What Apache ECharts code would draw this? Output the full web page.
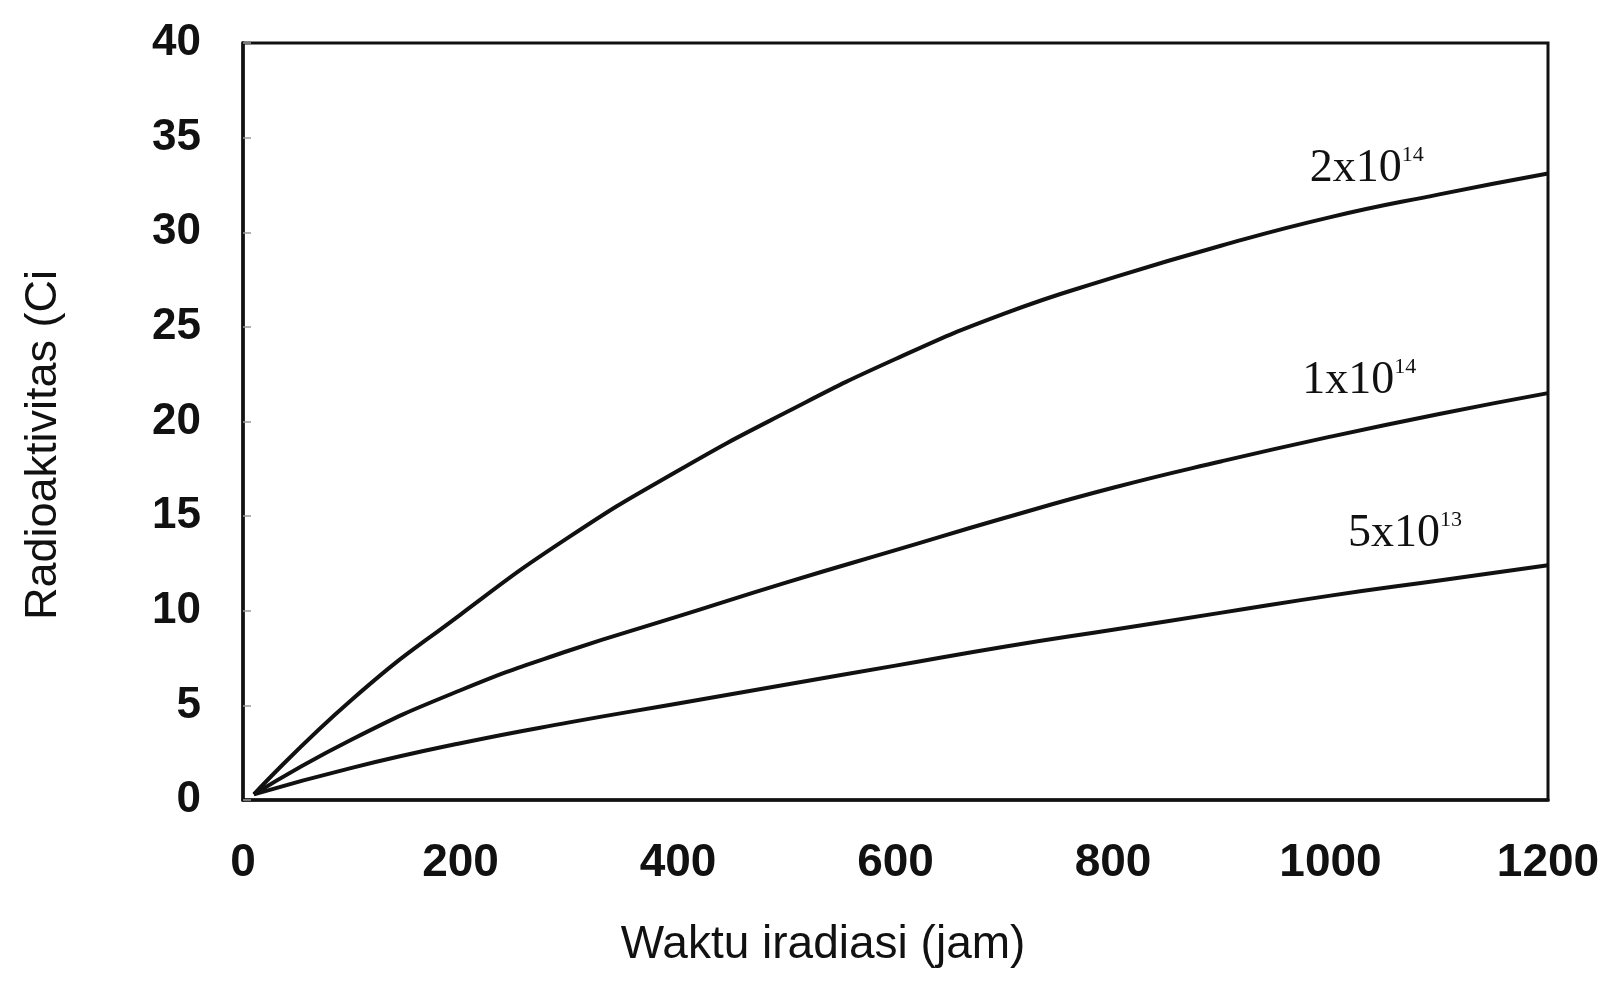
<!DOCTYPE html>
<html>
<head>
<meta charset="utf-8">
<script src="https://cdn.jsdelivr.net/npm/echarts@6/dist/echarts.min.js"></script>
<style>
html,body{margin:0;padding:0;background:#fff;}
#chart{width:1610px;height:981px;}
</style>
</head>
<body>
<div id="chart"></div>
<script>
// Irradiation time (jam)
const hours = [10, 100, 200, 300, 400, 500, 600, 700, 800, 900, 1000, 1100, 1200];
// Radioactivity (Ci) for each neutron flux
const flux2e14 = [0.3, 5.3, 9.8, 13.9, 17.4, 20.5, 23.3, 25.7, 27.6, 29.3, 30.8, 32.0, 33.1];
const flux1e14 = [0.3, 3.2, 5.8, 7.9, 9.7, 11.5, 13.2, 14.9, 16.5, 17.9, 19.2, 20.4, 21.5];
const flux5e13 = [0.3, 1.7, 3.0, 4.1, 5.1, 6.1, 7.1, 8.1, 9.0, 9.9, 10.8, 11.6, 12.4];
const xTicks = [0, 200, 400, 600, 800, 1000, 1200];
const yTicks = [0, 5, 10, 15, 20, 25, 30, 35, 40];
// curve labels: [mantissa, exponent, x (jam), y (Ci)] anchor of label's left/middle
const curveLabels = [
  ['2x10', '14', 981, 33.4],
  ['1x10', '14', 974, 22.2],
  ['5x10', '13', 1016, 14.1]
];

const pair = (ys) => hours.map((h, i) => [h, ys[i]]);
const lineStyle = { color: '#111', width: 4 };

const chart = echarts.init(document.getElementById('chart'));
const option = {
  animation: false,
  backgroundColor: '#fff',
  grid: {
    left: 243, right: 62, top: 43, bottom: 181,
    show: true, borderColor: '#111', borderWidth: 3, backgroundColor: 'transparent'
  },
  xAxis: {
    type: 'value', min: 0, max: 1200, interval: 200,
    axisLine: { show: true, lineStyle: { color: '#111', width: 3.5 } },
    axisTick: { show: false },
    splitLine: { show: false },
    axisLabel: {
      color: '#111', fontFamily: 'Liberation Sans, Arial, sans-serif',
      fontWeight: 'bold', fontSize: 46, margin: 40,
      formatter: (v) => xTicks.includes(v) ? String(v) : ''
    }
  },
  yAxis: {
    type: 'value', min: 0, max: 40, interval: 5,
    axisLine: { show: true, lineStyle: { color: '#111', width: 3.5 } },
    axisTick: { show: true, inside: true, length: 8, lineStyle: { color: '#999', width: 1.5 } },
    splitLine: { show: false },
    axisLabel: {
      color: '#111', fontFamily: 'Liberation Sans, Arial, sans-serif',
      fontWeight: 'bold', fontSize: 44, margin: 42,
      formatter: (v) => yTicks.includes(v) ? String(v) : ''
    }
  },
  series: [
    { name: '2x10^14', type: 'line', data: pair(flux2e14), smooth: 0.5, symbol: 'none', lineStyle },
    { name: '1x10^14', type: 'line', data: pair(flux1e14), smooth: 0.5, symbol: 'none', lineStyle },
    { name: '5x10^13', type: 'line', data: pair(flux5e13), smooth: 0.5, symbol: 'none', lineStyle }
  ]
};
chart.setOption(option);

const graphics = curveLabels.map(([m, e, x, y]) => {
  const p = chart.convertToPixel({ gridIndex: 0 }, [x, y]);
  return {
    type: 'text', x: p[0], y: p[1],
    style: {
      text: '{m|' + m + '}{e|' + e + '}',
      verticalAlign: 'middle', align: 'left',
      rich: {
        m: { fontFamily: 'Liberation Serif, Times New Roman, serif', fontSize: 46, fill: '#111', color: '#111', verticalAlign: 'bottom', lineHeight: 48 },
        e: { fontFamily: 'Liberation Serif, Times New Roman, serif', fontSize: 22, fill: '#111', color: '#111', verticalAlign: 'top', lineHeight: 48 }
      }
    }
  };
});
graphics.push({
  type: 'text', x: 823, y: 945,
  style: { text: 'Waktu iradiasi (jam)', fontFamily: 'Liberation Sans, Arial, sans-serif', fontSize: 46, fill: '#111', align: 'center', verticalAlign: 'middle' }
});
graphics.push({
  type: 'text', x: 44, y: 445, rotation: Math.PI / 2,
  style: { text: 'Radioaktivitas (Ci', fontFamily: 'Liberation Sans, Arial, sans-serif', fontSize: 45, fill: '#111', align: 'center', verticalAlign: 'middle' }
});
chart.setOption({ graphic: graphics });
</script>
</body>
</html>
